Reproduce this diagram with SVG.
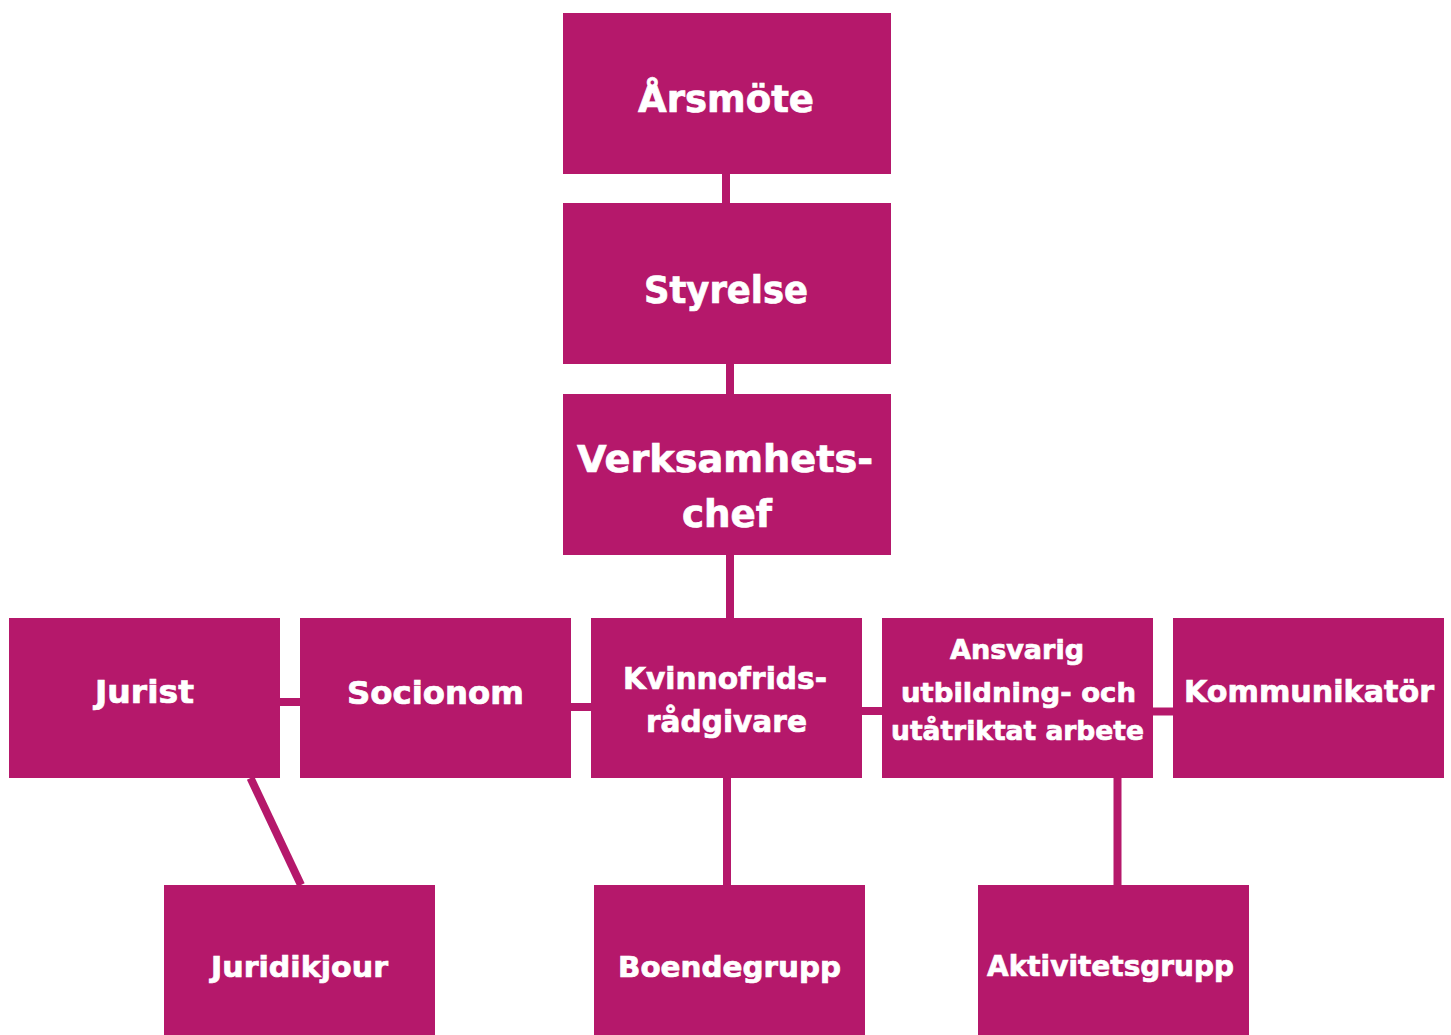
<svg xmlns="http://www.w3.org/2000/svg" width="1451" height="1035" viewBox="0 0 1451 1035">
<style>
.box{fill:#B5186B}
.conn{stroke:#B5186B;stroke-width:8;fill:none}
.t{fill:#FFFFFF;stroke:#FFFFFF;stroke-width:0.7;font-family:"DejaVu Sans","Liberation Sans",sans-serif;font-weight:700}
</style>
<rect width="1451" height="1035" fill="#FFFFFF"/>
<g id="connectors">
<line class="conn" x1="726" y1="174" x2="726" y2="203"/>
<line class="conn" x1="730" y1="364" x2="730" y2="394"/>
<line class="conn" x1="730" y1="555" x2="730" y2="618"/>
<line class="conn" x1="280" y1="702" x2="300" y2="702"/>
<line class="conn" x1="571" y1="707" x2="591" y2="707"/>
<line class="conn" x1="862" y1="711" x2="882" y2="711"/>
<line class="conn" x1="1153" y1="711.5" x2="1173" y2="711.5"/>
<line class="conn" x1="727" y1="778" x2="727" y2="885"/>
<line class="conn" x1="1117.5" y1="778" x2="1117.5" y2="885"/>
<line class="conn" x1="250.5" y1="778" x2="301" y2="885"/>
</g>
<g id="arsmote"><rect class="box" x="563" y="13" width="328" height="161"/><text class="t" x="638" y="112" font-size="37" textLength="176" lengthAdjust="spacingAndGlyphs">Årsmöte</text></g>
<g id="styrelse"><rect class="box" x="563" y="203" width="328" height="161"/><text class="t" x="644" y="303" font-size="37" textLength="164" lengthAdjust="spacingAndGlyphs">Styrelse</text></g>
<g id="verksamhetschef"><rect class="box" x="563" y="394" width="328" height="161"/><text class="t" x="577" y="472" font-size="37" textLength="296" lengthAdjust="spacingAndGlyphs">Verksamhets-</text><text class="t" x="682" y="527" font-size="37" textLength="90" lengthAdjust="spacingAndGlyphs">chef</text></g>
<g id="jurist"><rect class="box" x="9" y="618" width="271" height="160"/><text class="t" x="95" y="703" font-size="32" textLength="99" lengthAdjust="spacingAndGlyphs">Jurist</text></g>
<g id="socionom"><rect class="box" x="300" y="618" width="271" height="160"/><text class="t" x="347" y="704" font-size="32" textLength="177" lengthAdjust="spacingAndGlyphs">Socionom</text></g>
<g id="kvinnofridsradgivare"><rect class="box" x="591" y="618" width="271" height="160"/><text class="t" x="623" y="689" font-size="30" textLength="204" lengthAdjust="spacingAndGlyphs">Kvinnofrids-</text><text class="t" x="646" y="732" font-size="30" textLength="161" lengthAdjust="spacingAndGlyphs">rådgivare</text></g>
<g id="ansvarig"><rect class="box" x="882" y="618" width="271" height="160"/><text class="t" x="950" y="659" font-size="27" textLength="134" lengthAdjust="spacingAndGlyphs">Ansvarig</text><text class="t" x="901" y="702" font-size="27" textLength="235" lengthAdjust="spacingAndGlyphs">utbildning- och</text><text class="t" x="891" y="740" font-size="27" textLength="253" lengthAdjust="spacingAndGlyphs">utåtriktat arbete</text></g>
<g id="kommunikator"><rect class="box" x="1173" y="618" width="271" height="160"/><text class="t" x="1184" y="702" font-size="30" textLength="250" lengthAdjust="spacingAndGlyphs">Kommunikatör</text></g>
<g id="juridikjour"><rect class="box" x="164" y="885" width="271" height="150"/><text class="t" x="211" y="977" font-size="29" textLength="177" lengthAdjust="spacingAndGlyphs">Juridikjour</text></g>
<g id="boendegrupp"><rect class="box" x="594" y="885" width="271" height="150"/><text class="t" x="618" y="977" font-size="29" textLength="223" lengthAdjust="spacingAndGlyphs">Boendegrupp</text></g>
<g id="aktivitetsgrupp"><rect class="box" x="978" y="885" width="271" height="150"/><text class="t" x="987" y="976" font-size="29" textLength="247" lengthAdjust="spacingAndGlyphs">Aktivitetsgrupp</text></g>
</svg>
